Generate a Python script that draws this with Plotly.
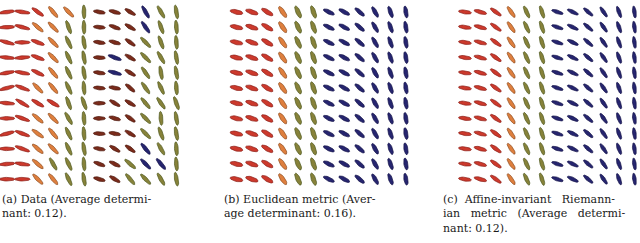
import numpy as np
import plotly.graph_objects as go

# ---------------- data ----------------
# orientation angles in degrees (positive = right end lower, "\" tilt), 12 rows x 12 cols
A_ANGLES = [
    [-8, 8, 35, 50, 45, 88, 10, 15, 30, 60, 60, 80],
    [-3, 15, 40, 45, 70, 88, 5, 20, 30, 55, 70, 85],
    [15, 0, 20, 45, 65, 80, 8, 15, 35, 45, 70, 85],
    [5, -5, 20, 45, 65, 80, 3, 20, 30, 45, 60, 80],
    [-10, 10, 25, 50, 65, 80, 8, 15, 30, 55, 80, 80],
    [-15, 20, 45, 50, 65, 85, 5, 10, 40, 55, 65, 85],
    [5, 30, 30, 30, 70, 70, 0, 30, 30, 50, 55, 70],
    [0, 20, 40, 45, 60, 85, 0, 15, 35, 45, 85, 80],
    [-15, 20, 35, 50, 65, 85, 3, 10, 30, 45, 70, 80],
    [0, 20, 40, 45, 65, 80, 10, 30, 35, 50, 60, 85],
    [-5, 8, 40, 60, 65, 85, 20, 25, 40, 45, 50, 85],
    [0, 0, 45, 50, 65, 80, 15, 30, 50, 45, 60, 80],
]
# colour class per cell: R red, O orange, G olive, B brown, N navy
A_CLASSES = [
    "RRROOGBBBNGG",
    "RROOGGBBBNGG",
    "RRROGGBBBGGG",
    "RRROGGBNBGGG",
    "RRROGGBNBGGG",
    "RROOGGBBBGGG",
    "RRRRGGBBBGGG",
    "RROOGGBBBGGG",
    "RROOGGBBBGGG",
    "RROOGGBBBNGG",
    "RROGGGBBGNNG",
    "RROOGGBBGGGG",
]
# panels (b) and (c): smooth fields, one angle per column
B_COL_ANGLES = [12, 18, 30, 55, 65, 70, 25, 27, 40, 60, 70, 80]
B_COL_CLASSES = "RRROGGNNNNNN"
C_COL_ANGLES = [8, 15, 35, 55, 65, 72, 18, 25, 40, 55, 70, 82]
C_COL_CLASSES = "RRROGGNNNNNN"

S = "\u00a0"
CAPTIONS = [
    "(a) Data (Average determi-<br>nant: 0.12).",
    "(b) Euclidean metric (Aver-<br>age determinant: 0.16).",
    f"(c){S} Affine-invariant{S*2} Riemann-<br>ian{S*2} metric{S*2} (Average{S*2} determi-<br>nant: 0.12).",
]

# ---------------- styling ----------------
FILL = {"R": "#cc392c", "O": "#de7f3e", "G": "#87823a", "B": "#7a2b1b", "N": "#26256f"}
EDGE = {"R": "#8a1c15", "O": "#8c4a1e", "G": "#4c581c", "B": "#4a170c", "N": "#141348"}

W, H = 640, 243
SX, SY = 15.4, 15.2
X0 = [7, 236.5, 465]
Y0 = 12
DOMS = [(0, 215), (215, 445), (445, 640)]
YBOT = 192
CAP_X = [0, 222, 441]

n = 12
panels = [
    (np.array(A_ANGLES, float), [list(s) for s in A_CLASSES]),
    (np.tile(np.array(B_COL_ANGLES, float), (n, 1)), [list(B_COL_CLASSES)] * n),
    (np.tile(np.array(C_COL_ANGLES, float), (n, 1)), [list(C_COL_CLASSES)] * n),
]


def size_for(p, r, c, cls):
    if p == 0:
        if c < 2:
            return 15.5, 3.6
        if cls == "B":
            return 12.0, 3.8
        return 14.0, 3.8
    if p == 1:
        if cls == "N":
            return 12.0, 4.0
        return 13.0, 4.5
    if cls == "N":
        return 12.0, 3.6
    return 13.0, 3.8


t = np.linspace(0, 2 * np.pi, 28)
fig = go.Figure()
for p, (ang, cls) in enumerate(panels):
    groups = {}
    for r in range(n):
        for c in range(n):
            k = cls[r][c]
            L, Wd = size_for(p, r, c, k)
            th = np.deg2rad(ang[r, c])
            a, b = L / 2, Wd / 2
            dx = a * np.cos(t) * np.cos(th) - b * np.sin(t) * np.sin(th)
            dy = a * np.cos(t) * np.sin(th) + b * np.sin(t) * np.cos(th)
            gx, gy = groups.setdefault(k, ([], []))
            gx.extend(list(c + dx / SX) + [None])
            gy.extend(list(r + dy / SY) + [None])
    ax = "" if p == 0 else str(p + 1)
    for k, (gx, gy) in groups.items():
        fig.add_trace(go.Scatter(
            x=gx, y=gy, mode="lines", fill="toself",
            fillcolor=FILL[k], line=dict(color=EDGE[k], width=0.7),
            hoverinfo="skip", showlegend=False,
            xaxis="x" + ax, yaxis="y" + ax))
    l, rr = DOMS[p]
    fig.update_layout(**{
        "xaxis" + ax: dict(domain=[l / W, rr / W],
                           range=[(l - X0[p]) / SX, (rr - X0[p]) / SX],
                           visible=False, fixedrange=True),
        "yaxis" + ax: dict(domain=[(H - YBOT) / H, 1],
                           range=[(YBOT - Y0) / SY, -Y0 / SY],
                           visible=False, fixedrange=True,
                           anchor="x" + ax),
    })

for p in range(3):
    fig.add_annotation(
        text=CAPTIONS[p], xref="paper", yref="paper",
        x=CAP_X[p] / W, y=(H - 191) / H, xanchor="left", yanchor="top",
        align="left", showarrow=False,
        font=dict(family="DejaVu Serif", size=11, color="#1a1a1a"))

fig.update_layout(width=W, height=H, margin=dict(l=0, r=0, t=0, b=0),
                  paper_bgcolor="white", plot_bgcolor="white")
fig.write_html("out.html", config={"displayModeBar": False},
               post_script="document.body.style.margin='0px';document.body.style.overflow='hidden';")
